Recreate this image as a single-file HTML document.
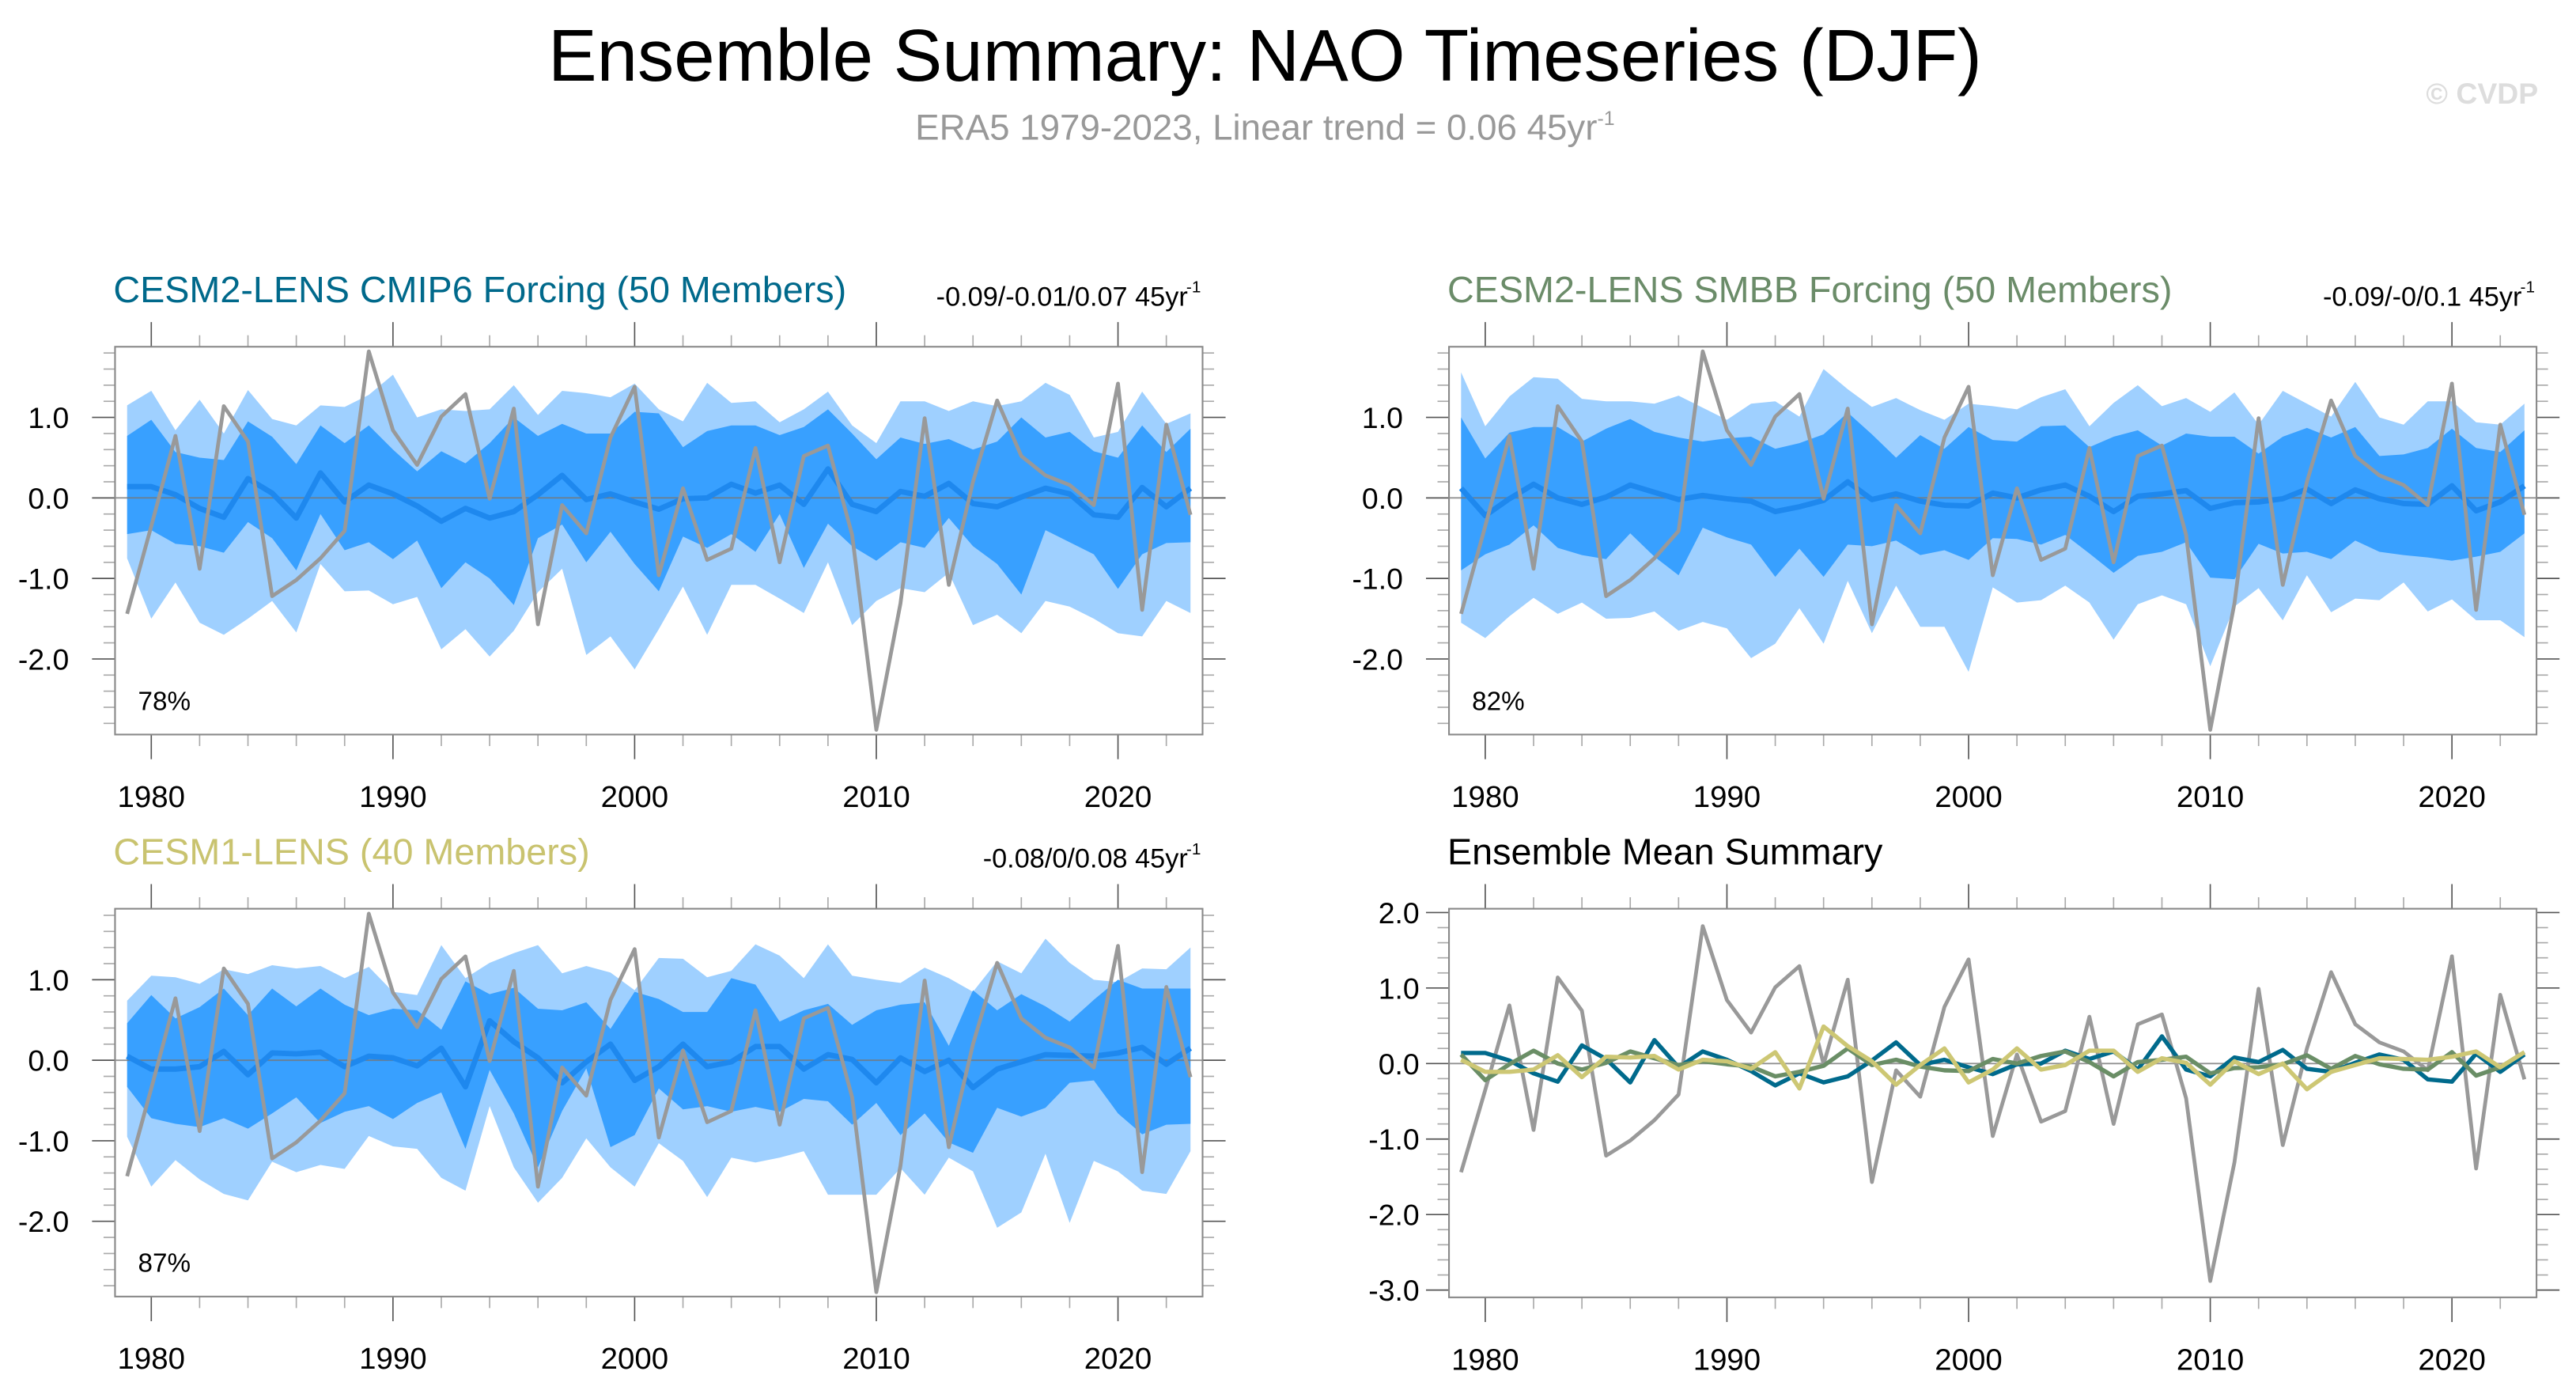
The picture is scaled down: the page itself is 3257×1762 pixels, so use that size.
<!DOCTYPE html>
<html><head><meta charset="utf-8">
<style>
html,body{margin:0;padding:0;background:#fff;}
svg{display:block;font-family:"Liberation Sans",sans-serif;}
</style></head>
<body>
<svg id="fig" width="3257" height="1762" viewBox="0 0 1568 848.3" xmlns="http://www.w3.org/2000/svg">
<rect x="0" y="0" width="1568" height="848.3" fill="#fff"/>
<text x="770" y="49" font-size="44.5" text-anchor="middle" fill="#000">Ensemble Summary: NAO Timeseries (DJF)</text>
<text x="770" y="85" font-size="22" text-anchor="middle" fill="#999">ERA5 1979-2023, Linear trend = 0.06 45yr<tspan font-size="12" dy="-9">-1</tspan></text>
<text x="1545" y="63" font-size="18" font-weight="bold" text-anchor="end" fill="#ddd">© CVDP</text>
</svg>
<script>
const years = [];
for (let y = 1979; y <= 2023; y++) years.push(y);
const obs = [-1.44,-0.35,0.77,-0.88,1.14,0.70,-1.22,-1.02,-0.75,-0.41,1.82,0.84,0.41,1.01,1.29,-0.01,1.11,-1.57,-0.09,-0.44,0.75,1.38,-0.96,0.12,-0.77,-0.63,0.62,-0.80,0.52,0.65,-0.46,-2.88,-1.31,0.99,-1.08,0.20,1.21,0.52,0.28,0.16,-0.09,1.42,-1.39,0.91,-0.21];
const cmip6Mean = [0.14,0.14,0.04,-0.13,-0.24,0.24,0.06,-0.25,0.31,-0.05,0.16,0.05,-0.10,-0.29,-0.13,-0.25,-0.17,0.04,0.28,-0.02,0.05,-0.05,-0.14,-0.01,0.0,0.17,0.06,0.16,-0.08,0.36,-0.08,-0.17,0.08,0.02,0.18,-0.07,-0.11,0.01,0.12,0.05,-0.21,-0.24,0.13,-0.11,0.12];
const cmip6Hi = [1.15,1.33,0.84,1.22,0.8,1.34,0.98,0.9,1.15,1.13,1.28,1.53,1.0,1.1,1.08,1.1,1.4,1.03,1.33,1.3,1.25,1.42,1.1,0.95,1.43,1.18,1.2,0.94,1.1,1.32,0.9,0.68,1.2,1.2,1.08,1.2,1.14,1.2,1.43,1.28,0.75,0.82,1.32,0.92,1.05];
const cmip6Q3 = [0.77,0.97,0.57,0.5,0.47,0.95,0.76,0.42,0.9,0.68,0.9,0.6,0.33,0.58,0.43,0.68,1.0,0.77,0.92,0.8,0.8,1.07,1.05,0.63,0.83,0.9,0.9,0.78,0.88,1.1,0.8,0.48,0.75,0.67,0.73,0.6,0.7,1.0,0.75,0.82,0.58,0.5,0.9,0.57,0.86];
const cmip6Q1 = [-0.45,-0.4,-0.57,-0.6,-0.68,-0.3,-0.5,-0.9,-0.2,-0.65,-0.55,-0.76,-0.53,-1.12,-0.8,-1.0,-1.33,-0.5,-0.33,-0.8,-0.42,-0.82,-1.16,-0.48,-0.62,-0.45,-0.67,-0.2,-0.87,-0.32,-0.6,-0.78,-0.55,-0.62,-0.25,-0.6,-0.82,-1.2,-0.4,-0.55,-0.7,-1.13,-0.7,-0.56,-0.55];
const cmip6Lo = [-0.75,-1.5,-1.05,-1.55,-1.7,-1.5,-1.28,-1.67,-0.82,-1.16,-1.15,-1.32,-1.23,-1.88,-1.63,-1.97,-1.65,-1.17,-0.88,-1.95,-1.72,-2.13,-1.63,-1.1,-1.7,-1.08,-1.08,-1.25,-1.43,-0.8,-1.58,-1.28,-1.12,-1.17,-0.93,-1.58,-1.45,-1.68,-1.28,-1.35,-1.5,-1.68,-1.72,-1.28,-1.43];
const smbbMean = [0.12,-0.22,-0.01,0.17,0.0,-0.08,0.01,0.16,0.07,-0.02,0.03,-0.01,-0.04,-0.17,-0.11,-0.03,0.2,-0.02,0.05,-0.04,-0.09,-0.1,0.06,0.0,0.1,0.16,0.02,-0.17,0.02,0.05,0.09,-0.13,-0.06,-0.05,-0.01,0.11,-0.07,0.1,-0.01,-0.07,-0.08,0.15,-0.16,-0.05,0.15];
const smbbHi = [1.56,0.89,1.26,1.5,1.48,1.23,1.2,1.2,1.17,1.27,1.12,0.97,1.17,1.2,1.01,1.6,1.35,1.13,1.24,1.09,0.97,1.17,1.14,1.1,1.25,1.35,0.89,1.18,1.4,1.14,1.24,1.07,1.31,0.91,1.33,1.17,1.01,1.44,1.0,0.91,1.2,1.2,0.94,0.91,1.17];
const smbbQ3 = [1.0,0.49,0.81,0.88,0.88,0.7,0.86,0.98,0.82,0.75,0.7,0.74,0.76,0.61,0.68,0.79,1.06,0.79,0.5,0.78,0.61,0.88,0.72,0.7,0.89,0.9,0.63,0.76,0.84,0.65,0.8,0.76,0.76,0.55,0.76,0.87,0.75,0.88,0.52,0.54,0.62,0.86,0.62,0.57,0.84];
const smbbQ1 = [-0.9,-0.7,-0.58,-0.34,-0.62,-0.71,-0.76,-0.44,-0.73,-0.96,-0.37,-0.49,-0.58,-0.98,-0.63,-0.98,-0.58,-0.6,-0.53,-0.71,-0.65,-0.77,-0.5,-0.51,-0.58,-0.46,-0.69,-0.93,-0.72,-0.67,-0.55,-0.99,-1.01,-0.57,-0.69,-0.67,-0.76,-0.53,-0.67,-0.71,-0.74,-0.78,-0.73,-0.67,-0.44];
const smbbLo = [-1.55,-1.74,-1.47,-1.24,-1.44,-1.3,-1.5,-1.49,-1.41,-1.65,-1.54,-1.62,-1.99,-1.81,-1.37,-1.81,-1.03,-1.68,-1.09,-1.6,-1.6,-2.16,-1.11,-1.3,-1.27,-1.09,-1.3,-1.76,-1.32,-1.21,-1.32,-2.09,-1.35,-1.12,-1.52,-0.96,-1.42,-1.25,-1.27,-1.05,-1.41,-1.26,-1.52,-1.52,-1.73];
const lens1Mean = [0.05,-0.11,-0.11,-0.08,0.11,-0.18,0.09,0.08,0.1,-0.08,0.05,0.03,-0.07,0.15,-0.33,0.49,0.23,0.03,-0.28,-0.02,0.2,-0.25,-0.08,0.2,-0.08,-0.02,0.17,0.17,-0.11,0.07,0.01,-0.28,0.03,-0.14,0.0,-0.34,-0.11,-0.02,0.07,0.06,0.05,0.09,0.16,-0.05,0.15];
const lens1Hi = [0.74,1.05,1.03,0.95,1.13,1.07,1.18,1.14,1.17,1.02,1.16,0.85,0.81,1.43,1.02,1.21,1.33,1.43,1.08,1.17,1.09,0.87,1.27,1.26,1.03,1.11,1.44,1.3,1.02,1.44,1.05,1.0,0.96,1.15,1.02,0.85,1.23,1.08,1.51,1.21,1.0,0.97,1.14,1.13,1.4];
const lens1Q3 = [0.46,0.81,0.52,0.66,0.89,0.56,0.89,0.67,0.89,0.69,0.56,0.64,0.62,0.38,0.98,0.82,0.9,0.64,0.62,0.72,0.39,0.85,0.76,0.6,0.6,1.02,0.94,0.48,0.62,0.7,0.44,0.62,0.69,0.72,0.18,0.87,0.62,0.82,0.67,0.48,0.75,1.0,0.89,0.89,0.89];
const lens1Q1 = [-0.33,-0.72,-0.79,-0.83,-0.72,-0.85,-0.66,-0.46,-0.78,-0.64,-0.57,-0.73,-0.53,-0.4,-1.1,-0.12,-0.66,-1.33,-0.63,-0.1,-1.08,-0.93,-0.35,-0.61,-0.57,-0.64,-0.58,-0.64,-0.48,-0.51,-0.8,-0.53,-0.93,-0.66,-1.02,-1.15,-0.59,-0.7,-0.59,-0.28,-0.25,-0.66,-0.92,-0.8,-0.79];
const lens1Lo = [-0.95,-1.57,-1.24,-1.48,-1.66,-1.74,-1.26,-1.39,-1.3,-1.35,-0.94,-1.07,-1.1,-1.46,-1.62,-0.57,-1.33,-1.77,-1.46,-0.97,-1.33,-1.57,-1.03,-1.25,-1.7,-1.21,-1.27,-1.21,-1.13,-1.67,-1.67,-1.67,-1.34,-1.67,-1.21,-1.38,-2.08,-1.89,-1.16,-2.02,-1.25,-1.38,-1.62,-1.66,-1.13];
const yTicks123 = [1.0,0.0,-1.0,-2.0];
const yTicks4 = [2.0,1.0,0.0,-1.0,-2.0,-3.0];
const xTicks = [1980,1990,2000,2010,2020];
const pcts = ['78%','82%','87%'];

const NS = 'http://www.w3.org/2000/svg';
const svg = document.getElementById('fig');
function mk(tag, attrs, parent){const e=document.createElementNS(NS,tag);for(const k in attrs)e.setAttribute(k,attrs[k]);(parent||svg).appendChild(e);return e;}

function panel(cfg){
  const g = mk('g',{});
  
  
  const xs = v => cfg.x0 + (v - 1978.5) / 45 * (cfg.x1 - cfg.x0);
  const ys = v => cfg.zero - v * cfg.unit;
  const yTop = (cfg.zero - cfg.y0) / cfg.unit, yBot = (cfg.zero - cfg.y1) / cfg.unit;
  for (let yr = 1980; yr <= 2023; yr += 2) {
    const major = yr % 10 === 0, L = major ? 15 : 7;
    const c = major ? '#555' : '#aaa';
    const t1 = mk('line',{x1:xs(yr),x2:xs(yr),y1:cfg.y0,y2:cfg.y0-L,stroke:c,'stroke-width':0.8},g);
    
    
    const t2 = mk('line',{x1:xs(yr),x2:xs(yr),y1:cfg.y1,y2:cfg.y1+L,stroke:c,'stroke-width':0.8},g);
    
    
  }
  for (let k = Math.ceil(yBot*5-1e-6); k <= Math.floor(yTop*5+1e-6); k++) {
    const v = k/5, major = k % 5 === 0, L = major ? 14 : 7, c = major ? '#555' : '#aaa';
    const a = mk('line',{x1:cfg.x0-L,x2:cfg.x0,y1:ys(v),y2:ys(v),stroke:c,'stroke-width':0.8},g);
    
    
    const b = mk('line',{x1:cfg.x1,x2:cfg.x1+L,y1:ys(v),y2:ys(v),stroke:c,'stroke-width':0.8},g);
    
    
  }
  const band = (hi, lo, col, nm) => {
    let d = 'M' + years.map((y,i)=>xs(y)+','+ys(hi[i])).join('L');
    d += 'L' + years.slice().reverse().map((y,j)=>{const i=years.length-1-j;return xs(y)+','+ys(lo[i]);}).join('L') + 'Z';
    const p = mk('path',{d:d,fill:col},g);
    
    
  };
  const line = (vals, col, w, nm) => {
    const p = mk('polyline',{points:years.map((y,i)=>xs(y)+','+ys(vals[i])).join(' '),fill:'none',stroke:col,'stroke-width':w,'stroke-linejoin':'round'},g);
    
    
  };
  if (cfg.bands) {
    band(cfg.bands[0], cfg.bands[3], '#9fd0ff', 'outer-spread-band');
    band(cfg.bands[1], cfg.bands[2], '#38a0ff', 'inner-spread-band');
  }
  const z = mk('line',{x1:cfg.x0,x2:cfg.x1,y1:ys(0),y2:ys(0),stroke:'#777','stroke-width':0.9,'stroke-opacity':0.8},g);
  
  
  if (cfg.bands) {
    line(cfg.mean, '#1e88ee', 3.3, 'ensemble-mean-line');
    line(obs, '#999', 2.3, 'era5-observed-line');
  } else {
    line(obs, '#999', 2.3, 'era5-observed-line');
    line(cmip6Mean, '#006a8c', 2.6, 'cesm2-cmip6-mean-line');
    line(smbbMean, '#6a8e66', 2.6, 'cesm2-smbb-mean-line');
    line(lens1Mean, '#cdc774', 2.6, 'cesm1-mean-line');
  }
  const box = mk('rect',{x:cfg.x0,y:cfg.y0,width:cfg.x1-cfg.x0,height:cfg.y1-cfg.y0,fill:'none',stroke:'#888','stroke-width':1},g);
  
  
  xTicks.forEach(v=>{
    const t = mk('text',{x:xs(v),y:cfg.y1+44,'font-size':18.5,'text-anchor':'middle',fill:'#000'},g);
    t.textContent = v;
    
    
  });
  cfg.yt.forEach(v=>{
    const t = mk('text',{x:cfg.ylx,y:ys(v)+6.5,'font-size':18,'text-anchor':'end',fill:'#000'},g);
    t.textContent = v.toFixed(1);
    
    
  });
  const tt = mk('text',{x:cfg.x0-1,y:cfg.y0-27,'font-size':22.5,fill:cfg.tcol},g);
  tt.textContent = cfg.title;
  
  
  if (cfg.trend) {
    const tr = mk('text',{x:cfg.x1-9,y:cfg.y0-25,'font-size':16.5,'text-anchor':'end',fill:'#000'},g);
    tr.textContent = cfg.trend;
    
    
    const sp = mk('text',{x:cfg.x1-1,y:cfg.y0-33,'font-size':10,'text-anchor':'end',fill:'#000'},g);
    sp.textContent = '-1';
    
    
  }
  if (cfg.pct) {
    const p = mk('text',{x:cfg.x0+14,y:cfg.y1-15,'font-size':16,fill:'#000'},g);
    p.textContent = cfg.pct;
    
    
  }
}

panel({name:'panel-cesm2-cmip6',x0:70,x1:732,y0:211,y1:447,zero:303,unit:49,yt:yTicks123,ylx:42,
  bands:[cmip6Hi,cmip6Q3,cmip6Q1,cmip6Lo],mean:cmip6Mean,title:'CESM2-LENS CMIP6 Forcing (50 Members)',tcol:'#00698b',
  trend:'-0.09/-0.01/0.07 45yr',pct:pcts[0]});
panel({name:'panel-cesm2-smbb',x0:882,x1:1544,y0:211,y1:447,zero:303,unit:49,yt:yTicks123,ylx:854,
  bands:[smbbHi,smbbQ3,smbbQ1,smbbLo],mean:smbbMean,title:'CESM2-LENS SMBB Forcing (50 Members)',tcol:'#6b8c69',
  trend:'-0.09/-0/0.1 45yr',pct:pcts[1]});
panel({name:'panel-cesm1-lens',x0:70,x1:732,y0:553,y1:789,zero:645.2,unit:49,yt:yTicks123,ylx:42,
  bands:[lens1Hi,lens1Q3,lens1Q1,lens1Lo],mean:lens1Mean,title:'CESM1-LENS (40 Members)',tcol:'#c9c36f',
  trend:'-0.08/0/0.08 45yr',pct:pcts[2]});
panel({name:'panel-ensemble-mean-summary',x0:882,x1:1544,y0:553,y1:789.5,zero:647.2,unit:45.95,yt:yTicks4,ylx:864,
  bands:null,title:'Ensemble Mean Summary',tcol:'#000',trend:null,pct:null});
</script>
</body></html>
